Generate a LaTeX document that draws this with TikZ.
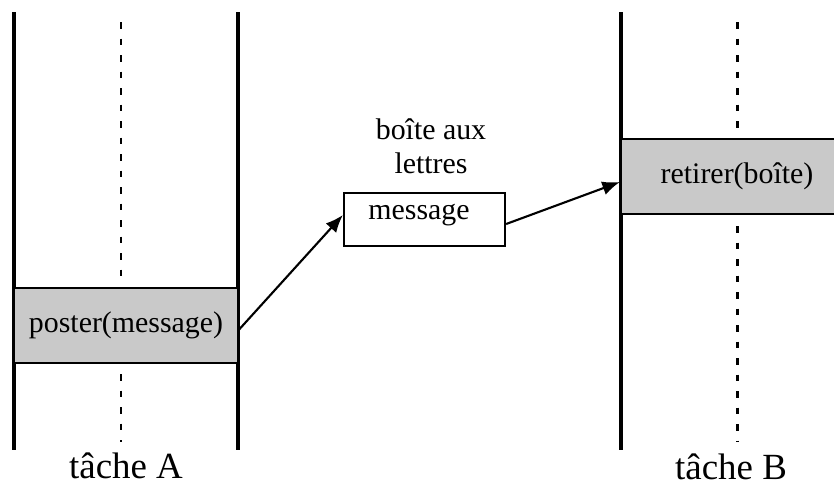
\documentclass[tikz,border=0pt]{standalone}
\usepackage{fontspec}
\setmainfont{Liberation Serif}
\usetikzlibrary{arrows.meta, positioning}

\begin{document}
\begin{tikzpicture}[x=0.02cm, y=-0.02cm,
    lifeline/.style={line width=1.8pt},
    taskaxis/.style={line width=1.7pt, dash pattern=on 3.8pt off 5.6pt},
    opbox/.style={draw, line width=1.3pt, fill=gray!42, minimum height=1.5cm,
        inner sep=0pt, font=\fontsize{17}{20}\selectfont},
    mailbox/.style={draw, line width=1.3pt, fill=white, minimum width=3.22cm,
        minimum height=1.06cm, inner sep=0pt, font=\fontsize{17}{20}\selectfont},
    tasklabel/.style={font=\fontsize{21}{24}\selectfont, inner sep=0pt},
    sendarrow/.style={line width=1.2pt, -{Latex[length=10pt, width=8pt]}}]
    \useasboundingbox (0,0) rectangle (834,485);

    % tache A
    \coordinate (aTop) at (14,12);
    \coordinate (aBot) at (14,450);
    \coordinate (aTopR) at (238,12);
    \coordinate (aBotR) at (238,450);
    \draw[taskaxis] (121,22) -- (121,286);
    \draw[taskaxis] (121,374) -- (121,442);
    \draw[lifeline] (aTop) -- (aBot);
    \draw[lifeline] (aTopR) -- (aBotR);
    \node[opbox, minimum width=4.48cm] (poster) at (126,325.5) {poster(message)};
    \node[tasklabel] (tacheA) at (126,466) {tâche A};

    % tache B
    \coordinate (bTop) at (621,12);
    \coordinate (bBot) at (621,450);
    \draw[taskaxis] (737,22) -- (737,130);
    \draw[taskaxis] (737,226) -- (737,442);
    \draw[lifeline] (bTop) -- (bBot);
    \node[opbox, minimum width=4.5cm] (retirer) at (733.5,176.5) {};
    \node[font=\fontsize{17}{20}\selectfont] (retirerTxt) at (737,176) {retirer(boîte)};
    \node[tasklabel] (tacheB) at (731,467) {tâche B};

    % boite aux lettres
    \node[mailbox] (msg) at (424.5,219.5) {};
    \node[font=\fontsize{17}{20}\selectfont] (msgTxt) at (419,215) {message};
    \node[align=center, font=\fontsize{17}{19.5}\selectfont, inner sep=0pt]
        (bal) at (431,146) {boîte aux\\lettres};

    \draw[sendarrow] ([yshift=-0.08cm]poster.east) -- ([yshift=0.09cm]msg.west);
    \draw[sendarrow] ([yshift=-0.09cm]msg.east) -- ([yshift=-0.11cm]retirer.west);
\end{tikzpicture}
\end{document}
